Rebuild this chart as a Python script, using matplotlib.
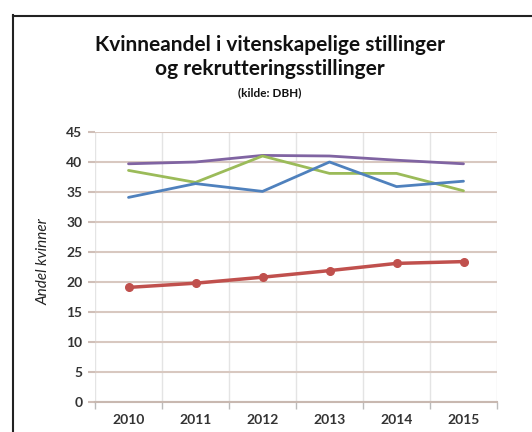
import matplotlib
matplotlib.use("Agg")
import matplotlib.pyplot as plt
from matplotlib.lines import Line2D
import numpy as np

years = ["2010", "2011", "2012", "2013", "2014", "2015"]
purple_vals = [39.7, 40.0, 41.1, 41.0, 40.3, 39.7]
green_vals = [38.6, 36.6, 41.0, 38.1, 38.1, 35.2]
blue_vals = [34.1, 36.4, 35.1, 40.0, 35.9, 36.8]
red_vals = [19.1, 19.8, 20.8, 21.9, 23.1, 23.4]
yticks = [0, 5, 10, 15, 20, 25, 30, 35, 40, 45]

plt.rcParams['font.family'] = ['Lato', 'DejaVu Sans']

fig = plt.figure(figsize=(5.32, 4.32), dpi=100)
fig.patch.set_facecolor("white")

# outer frame
fig.add_artist(Line2D([12.5/532, 12.5/532], [0, 1-15/432], transform=fig.transFigure, color="#222222", lw=1.5))
fig.add_artist(Line2D([12.5/532, 1], [1-15.5/432, 1-15.5/432], transform=fig.transFigure, color="#222222", lw=1.5))

ax = fig.add_axes([95/532, 1-402/432, (497-95)/532, (402-132)/432])
x = np.arange(len(years))
ax.plot(x, purple_vals, color="#8064A2", lw=2, solid_capstyle="round", zorder=3)
ax.plot(x, green_vals, color="#9BBB59", lw=2, solid_capstyle="round", zorder=3)
ax.plot(x, blue_vals, color="#4F81BD", lw=2, solid_capstyle="round", zorder=3)
ax.plot(x, red_vals, color="#C0504D", lw=2.5, marker="o", ms=5.5, zorder=4)

ax.set_xlim(-0.5, len(years) - 0.5)
ax.set_ylim(0, 45)
ax.set_yticks(yticks)
ax.set_yticklabels([str(v) for v in yticks], fontsize=10, fontweight="bold", color="#333333")
ax.set_xticks(np.arange(-0.5, len(years)), minor=False)
ax.set_xticklabels([])
ax.set_xticks(x, minor=True)
ax.set_xticklabels(years, minor=True, fontsize=10, fontweight="bold", color="#333333")
ax.tick_params(axis="x", which="minor", length=0, pad=9)
ax.tick_params(axis="x", which="major", length=5, color="#bbbbbb", width=1)
ax.tick_params(axis="y", length=5, color="#d0bfb8", width=1.5, pad=4)

for y in yticks:
    ax.axhline(y, color="#d8c8c0", lw=1.5, zorder=1)
for xv in np.arange(-0.5, len(years)):
    ax.axvline(xv, color="#e4e4e4", lw=1, zorder=0)

for s in ["top", "right", "left"]:
    ax.spines[s].set_visible(False)
ax.spines["bottom"].set_color("#c8b8b0")
ax.spines["bottom"].set_linewidth(1.5)

ax.set_ylabel("Andel kvinner", fontsize=11, style="italic", color="#222222")
ax.yaxis.set_label_coords(-0.11, 0.52)

fig.text(270/532, 1-45/432, "Kvinneandel i vitenskapelige stillinger", ha="center", va="center",
         fontsize=15, fontweight="bold", color="#111111")
fig.text(270/532, 1-69/432, "og rekrutteringsstillinger", ha="center", va="center",
         fontsize=15, fontweight="bold", color="#111111")
fig.text(270/532, 1-93/432, "(kilde: DBH)", ha="center", va="center",
         fontsize=8.5, fontweight="bold", color="#111111")

fig.savefig("out.png", dpi=100)
